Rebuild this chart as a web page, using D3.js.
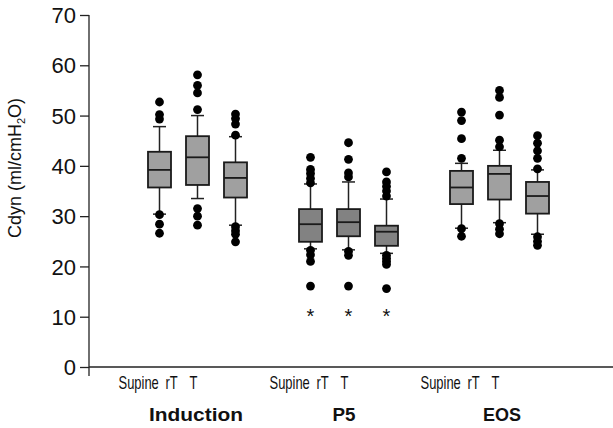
<!DOCTYPE html>
<html>
<head>
<meta charset="utf-8">
<script src="https://cdnjs.cloudflare.com/ajax/libs/d3/7.8.5/d3.min.js"></script>
<style>
	body { margin: 0; background: #fff; }
	text { font-family: "Liberation Sans", Arial, sans-serif; fill: #111; }
</style>
</head>
<body>
<div id="chartArea"></div>
<script>
// chart values
var groups = ["Induction", "P5", "EOS"];
var positions = ["Supine", "rT", "T"];
var yTicks = [0, 10, 20, 30, 40, 50, 60, 70];

// one entry per box, order: Induction S/rT/T, P5 S/rT/T, EOS S/rT/T
var q1 =        [35.7, 36.2, 33.7, 24.9, 26.0, 24.1, 32.4, 33.3, 30.5];
var medians =   [39.2, 41.7, 37.6, 28.4, 28.8, 26.9, 35.7, 38.4, 34.0];
var q3 =        [42.8, 45.9, 40.7, 31.4, 31.4, 28.1, 39.0, 40.0, 36.8];
var whiskerLo = [30.4, 33.5, 28.2, 23.5, 23.3, 22.6, 27.6, 28.7, 26.4];
var whiskerHi = [47.8, 50.0, 45.8, 36.4, 36.8, 33.4, 40.5, 43.1, 39.2];
var outliers = [
	[52.7, 50.2, 49.3, 30.3, 28.4, 26.6],
	[58.1, 56.0, 54.5, 51.2, 31.5, 30.0, 28.2],
	[50.3, 49.4, 48.3, 46.1, 27.9, 27.1, 26.4, 24.9],
	[41.7, 39.3, 38.5, 37.5, 36.6, 23.2, 22.3, 21.0, 16.1],
	[44.6, 41.3, 38.6, 37.8, 23.0, 22.2, 16.1],
	[38.8, 36.8, 35.9, 35.0, 34.0, 22.2, 21.6, 21.0, 20.4, 15.6],
	[50.7, 49.0, 45.4, 41.5, 27.5, 26.0],
	[55.0, 53.6, 50.1, 45.1, 43.8, 28.5, 27.4, 26.5],
	[46.0, 44.5, 43.0, 41.5, 39.4, 25.9, 25.0, 24.2]
];
var starGroups = ["P5"];
var starValue = 10.8;

var width = 613,
	height = 428,
	boxW = 23,
	capW = 13;

// label layout (the reference font is narrow, so labels get squeezed)
var labOffsets = [-79, -32, -8],
	labSqueeze = 0.72,
	groupOffsets = [-1.5, -4.5, 2.5],
	groupWidths = [94, 23, 38];

var boxes = [];
groups.forEach(function(g, gi) {
	positions.forEach(function(p, pi) {
		var i = gi * positions.length + pi;
		boxes.push({ group: g, pos: p, q1: q1[i], med: medians[i], q3: q3[i],
			lo: whiskerLo[i], hi: whiskerHi[i], out: outliers[i] });
	});
});

var svg = d3.select("#chartArea").append("svg")
	.attr("width", width)
	.attr("height", height);

var y = d3.scaleLinear().domain([0, 70]).range([367, 15]);
var xGroup = d3.scaleBand().domain(groups).range([122, 575]);
var xPos = d3.scalePoint().domain(positions).range([-38, 38]);

function gcx(g) { return xGroup(g) + xGroup.bandwidth() / 2; }
function cx(d) { return gcx(d.group) + xPos(d.pos); }

// axes
var yAxis = d3.axisLeft(y).tickValues(yTicks).tickSize(9).tickSizeOuter(0);
var gy = svg.append("g")
	.attr("transform", "translate(89,0)")
	.call(yAxis)
	.attr("font-size", 22)
	.attr("font-family", "Liberation Sans, Arial, sans-serif");
gy.select(".domain").remove();
gy.selectAll(".tick line").attr("stroke", "#222").attr("stroke-width", 1.3);
gy.selectAll(".tick text")
	.attr("x", -13)
	.attr("dy", "0.35em")
	.attr("fill", "#111");

svg.append("line")
	.attr("x1", 89).attr("x2", 89)
	.attr("y1", y(70)).attr("y2", 376)
	.attr("stroke", "#222").attr("stroke-width", 1.3);
svg.append("line")
	.attr("x1", 89).attr("x2", width)
	.attr("y1", y(0)).attr("y2", y(0))
	.attr("stroke", "#222").attr("stroke-width", 1.3);

// y label
var ylab = svg.append("text")
	.attr("transform", "translate(21,168) rotate(-90)")
	.attr("text-anchor", "middle")
	.style("font-size", "18px");
ylab.append("tspan").text("Cdyn (ml/cmH");
ylab.append("tspan").attr("dy", 4).style("font-size", "11px").text("2");
ylab.append("tspan").attr("dy", -4).text("O)");

// boxes
var b = svg.selectAll(".box")
	.data(boxes)
	.enter().append("g")
	.attr("class", "box");

b.append("line")
	.attr("x1", cx).attr("x2", cx)
	.attr("y1", function(d) { return y(d.hi); })
	.attr("y2", function(d) { return y(d.lo); })
	.attr("stroke", "#222").attr("stroke-width", 1.5);
b.append("line")
	.attr("x1", function(d) { return cx(d) - capW / 2; })
	.attr("x2", function(d) { return cx(d) + capW / 2; })
	.attr("y1", function(d) { return y(d.hi); })
	.attr("y2", function(d) { return y(d.hi); })
	.attr("stroke", "#222").attr("stroke-width", 1.5);
b.append("line")
	.attr("x1", function(d) { return cx(d) - capW / 2; })
	.attr("x2", function(d) { return cx(d) + capW / 2; })
	.attr("y1", function(d) { return y(d.lo); })
	.attr("y2", function(d) { return y(d.lo); })
	.attr("stroke", "#222").attr("stroke-width", 1.5);
b.append("rect")
	.attr("x", function(d) { return cx(d) - boxW / 2; })
	.attr("width", boxW)
	.attr("y", function(d) { return y(d.q3); })
	.attr("height", function(d) { return y(d.q1) - y(d.q3); })
	.attr("fill", function(d) { return d.group == "P5" ? "#828282" : "#a0a0a0"; })
	.attr("stroke", "#1a1a1a").attr("stroke-width", 1.8);
b.append("line")
	.attr("x1", function(d) { return cx(d) - boxW / 2; })
	.attr("x2", function(d) { return cx(d) + boxW / 2; })
	.attr("y1", function(d) { return y(d.med); })
	.attr("y2", function(d) { return y(d.med); })
	.attr("stroke", "#1a1a1a").attr("stroke-width", 1.8);

b.selectAll(".out")
	.data(function(d) { return d.out.map(function(v) { return { v: v, x: cx(d) }; }); })
	.enter().append("circle")
	.attr("class", "out")
	.attr("cx", function(o) { return o.x; })
	.attr("cy", function(o) { return y(o.v); })
	.attr("r", 4.4)
	.attr("fill", "#000");

// significance stars
svg.selectAll(".star")
	.data(boxes.filter(function(d) { return starGroups.indexOf(d.group) >= 0; }))
	.enter().append("text")
	.attr("class", "star")
	.attr("x", cx)
	.attr("y", y(starValue) + 10)
	.attr("text-anchor", "middle")
	.style("font-size", "20px")
	.text("*");

// category labels (typed under each group, not centred on boxes)
groups.forEach(function(g, gi) {
	var gc = gcx(g);
	positions.forEach(function(p, pi) {
		svg.append("text")
			.attr("transform", "translate(" + (gc + labOffsets[pi]) + ",389) scale(" + labSqueeze + ",1)")
			.style("font-size", "18px")
			.text(p);
	});
	svg.append("text")
		.attr("x", gc + groupOffsets[gi] - groupWidths[gi] / 2)
		.attr("y", 421)
		.attr("textLength", groupWidths[gi])
		.attr("lengthAdjust", "spacingAndGlyphs")
		.style("font-size", "19px")
		.style("font-weight", "bold")
		.text(g);
});
</script>
</body>
</html>
